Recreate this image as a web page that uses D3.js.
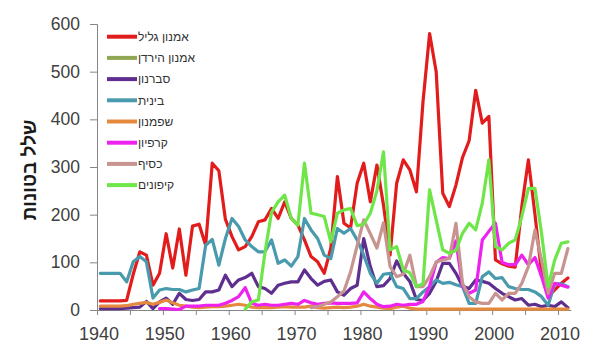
<!DOCTYPE html>
<html>
<head>
<meta charset="utf-8">
<script src="https://cdn.jsdelivr.net/npm/d3@7"></script>
<style>
  html, body { margin: 0; padding: 0; background: #fff; }
  svg { display: block; }
  text { font-family: "Liberation Sans", Arial, sans-serif; }
</style>
</head>
<body>
<svg id="chart" width="594" height="358"></svg>
<script>
// ---------- data ----------
const years = d3.range(1940, 2012); // categories 1940..2011
const yTicks = [0, 100, 200, 300, 400, 500, 600];
const xLabelYears = [1940, 1950, 1960, 1970, 1980, 1990, 2000, 2010];
const xTickYears = d3.range(1940, 2011, 5);
const yTitle = "שלל בטונות";

const amnonGalil = [
  19, 19, 19, 19, 20, 75, 122, 115, 52, 77,
  160, 88, 170, 73, 176, 180, 136, 308, 292, 190,
  154, 126, 133, 154, 185, 189, 213, 192, 227, 192,
  178, 147, 112, 101, 77, 130, 280, 182, 172, 266,
  308, 227, 304, 220, 115, 266, 315, 294, 248, 437,
  580, 500, 245, 217, 262, 320, 355, 461, 392, 406,
  105, 97, 92, 90, 217, 315, 200, 77, 28, 42,
  56, 67];
const amnonHayarden = []; // not visible in the plot
const tevranon = [
  3, 3, 3, 3, 4, 5, 6, 18, 3, 17,
  25, 12, 35, 22, 20, 22, 38, 38, 42, 73,
  49, 63, 68, 77, 49, 45, 35, 52, 56, 59,
  59, 84, 66, 52, 60, 63, 38, 31, 45, 52,
  150, 91, 49, 51, 66, 103, 77, 60, 22, 20,
  35, 60, 98, 98, 77, 50, 45, 63, 60, 56,
  45, 35, 28, 21, 24, 10, 12, 7, 10, 7,
  17, 5];
const binit = [
  77, 77, 77, 77, 59, 101, 112, 101, 25, 42,
  45, 43, 43, 38, 42, 45, 136, 148, 94, 150,
  192, 175, 147, 133, 122, 122, 147, 98, 105, 92,
  112, 192, 168, 150, 115, 108, 171, 161, 171, 147,
  115, 77, 56, 75, 77, 49, 45, 24, 24, 38,
  49, 63, 56, 58, 53, 49, 14, 14, 70, 80,
  66, 68, 49, 45, 43, 43, 38, 28, 10, 55,
  55, 49];
const shefamnun = [
  8, 8, 8, 8, 9, 12, 14, 16, 12, 16,
  21, 15, 10, 8, 6, 5, 6, 7, 7, 8,
  10, 12, 10, 6, 5, 5, 5, 6, 7, 6,
  6, 6, 8, 5, 4, 5, 6, 5, 6, 8,
  12, 8, 6, 4, 3, 6, 8, 4, 2, 2,
  2, 2, 2, 2, 2, 2, 2, 2, 2, 2,
  2, 2, 2, 2, 2, 2, 2, 2, 2, 2,
  2, 2];
const karpion = [
  null, null, null, null, null, null, null, null, null, 3,
  3, 2, 1, 8, 8, 8, 10, 10, 10, 14,
  20, 28, 47, 14, 10, 12, 10, 10, 12, 14,
  12, 20, 15, 12, 14, 15, 14, 14, 14, 15,
  38, 24, 12, 7, 8, 12, 10, 12, 12, 18,
  50, 100, 110, 108, 145, 50, 35, 42, 147, 165,
  182, 100, 95, 95, 115, 95, 110, 70, 25, 56,
  52, 48];
const kesef = [
  null, null, null, null, null, null, null, null, null, null,
  null, null, null, null, null, null, null, null, null, null,
  null, null, null, null, null, null, null, null, null, null,
  null, null, 5, 7, 12, 17, 28, 40, 80, 135,
  189, 160, 130, 183, 91, 70, 75, 115, 49, 49,
  70, 101, 105, 108, 182, 56, 28, 17, 14, 14,
  35, 21, 35, 35, 56, 91, 168, 105, 35, 77,
  77, 129];
const kipunim = [
  null, null, null, null, null, null, null, null, null, null,
  null, null, null, null, null, null, null, null, null, null,
  null, null, 2, 17, 21, 120, 205, 227, 241, 192,
  178, 308, 203, 200, 196, 143, 203, 210, 213, 177,
  180, 203, 250, 332, 126, 133, 84, 78, 49, 55,
  252, 189, 126, 119, 125, 161, 182, 168, 224, 315,
  133, 126, 140, 147, 196, 255, 255, 161, 49, 105,
  140, 143];

const seriesNames = ["אמנון גליל", "אמנון הירדן", "סברנון", "בינית", "שפמנון", "קרפיון", "כסיף", "קיפונים"];
const seriesValues = [amnonGalil, amnonHayarden, tevranon, binit, shefamnun, karpion, kesef, kipunim];
const seriesColors = ["#e21c1c", "#8fa652", "#5e2f8f", "#4a9aae", "#e5893f", "#ee22ee", "#c8948f", "#6ee64a"];

// ---------- layout ----------
const svg = d3.select("#chart");
const plotLeft = 97, plotRight = 571.2, plotTop = 24, plotBottom = 310;

const x = d3.scaleLinear().domain([1940, 2012]).range([plotLeft, plotRight]);
const y = d3.scaleLinear().domain([0, 600]).range([plotBottom, plotTop]);

const axisColor = "#868686";
const labelColor = "#404040";

// Y axis
const yAxis = svg.append("g")
  .attr("transform", `translate(${plotLeft},0)`)
  .call(d3.axisLeft(y).tickValues(yTicks).tickSize(7).tickPadding(10).tickFormat(d3.format("d")));
yAxis.select(".domain").attr("stroke", axisColor).attr("stroke-width", 1);
yAxis.selectAll(".tick line").attr("stroke", axisColor);
yAxis.selectAll(".tick text")
  .attr("fill", labelColor)
  .style("font-size", "17.5px")
  .style("font-family", "'Liberation Sans', Arial, sans-serif");

// X axis (ticks)
const xAxis = svg.append("g")
  .attr("transform", `translate(0,${plotBottom})`)
  .call(d3.axisBottom(x).tickValues(xTickYears).tickSize(5).tickFormat(""));
xAxis.select(".domain").attr("stroke", axisColor).attr("stroke-width", 1).attr("d", `M${plotLeft},0.5H${plotRight}`);
xAxis.selectAll(".tick line").attr("stroke", axisColor);

// X labels
svg.append("g").selectAll("text")
  .data(xLabelYears)
  .join("text")
  .attr("x", d => x(d) + 2)
  .attr("y", 340)
  .attr("text-anchor", "middle")
  .attr("fill", labelColor)
  .style("font-size", "18px")
  .text(d => d);

// Y title
svg.append("text")
  .attr("transform", `translate(36,170) rotate(-90)`)
  .attr("text-anchor", "middle")
  .attr("fill", "#1a1a1a")
  .style("font-size", "19px")
  .style("font-weight", "bold")
  .text(yTitle);

// Lines
const line = d3.line()
  .defined(d => d.v != null)
  .x(d => x(d.year + 0.5))
  .y(d => y(d.v));

const plot = svg.append("g");
seriesValues.forEach((vals, i) => {
  if (!vals.length) return;
  const pts = years.map((yr, j) => ({ year: yr, v: vals[j] === undefined ? null : vals[j] }));
  plot.append("path")
    .datum(pts)
    .attr("fill", "none")
    .attr("stroke", seriesColors[i])
    .attr("stroke-width", 3.2)
    .attr("stroke-linejoin", "round")
    .attr("stroke-linecap", "round")
    .attr("d", line);
});

// Legend
const legend = svg.append("g");
seriesNames.forEach((name, i) => {
  const ly = 36.7 + i * 21.2;
  legend.append("line")
    .attr("x1", 107).attr("x2", 137)
    .attr("y1", ly).attr("y2", ly)
    .attr("stroke", seriesColors[i])
    .attr("stroke-width", 4);
  legend.append("text")
    .attr("x", 138)
    .attr("y", ly)
    .attr("dy", "0.35em")
    .attr("text-anchor", "start")
    .attr("direction", "ltr")
    .attr("fill", "#333")
    .style("font-size", "12px")
    .text(name);
});
</script>
</body>
</html>
